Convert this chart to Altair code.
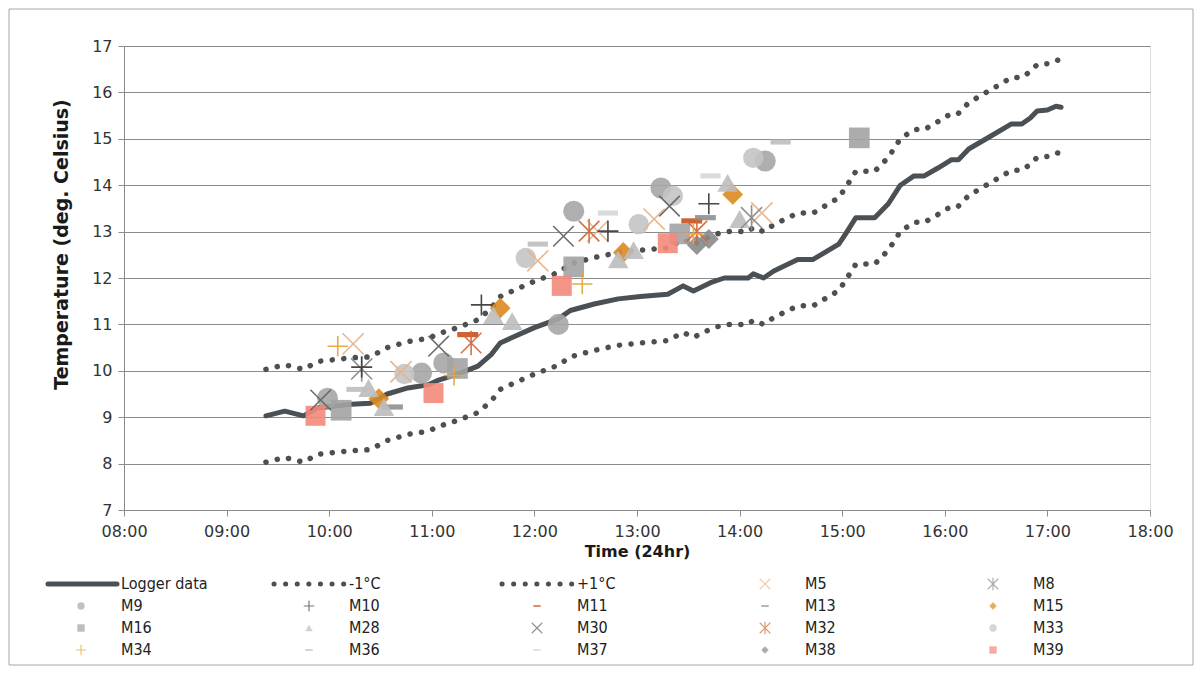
import altair as alt
import pandas as pd

# ---------------- data ----------------
logger_time = ["09:23","09:34","09:45","09:53","10:13","10:24","10:34","10:46","10:58","11:04",
               "11:15","11:27","11:35","11:40","11:46","12:00","12:14","12:21","12:35","12:49",
               "13:02","13:18","13:27","13:33","13:43","13:51","14:05","14:08","14:14","14:20",
               "14:34","14:43","14:58","15:02","15:08","15:19","15:27","15:34","15:42","15:48",
               "15:56","16:04","16:08","16:14","16:27","16:39","16:45","16:50","16:54","17:00",
               "17:05","17:08"]
logger_temp = [9.03,9.13,9.03,9.2,9.28,9.3,9.5,9.63,9.7,9.8,
               9.93,10.1,10.36,10.6,10.7,10.93,11.12,11.3,11.44,11.55,
               11.6,11.65,11.83,11.72,11.9,12.0,12.0,12.09,12.0,12.15,
               12.4,12.4,12.73,12.95,13.3,13.3,13.6,14.0,14.2,14.2,
               14.37,14.55,14.55,14.78,15.06,15.32,15.32,15.45,15.6,15.62,
               15.7,15.68]
lower_temp = [8.03,8.13,8.03,8.2,8.28,8.3,8.5,8.63,8.7,8.8,
              8.93,9.1,9.36,9.6,9.7,9.93,10.12,10.3,10.44,10.55,
              10.6,10.65,10.83,10.72,10.9,11.0,11.0,11.09,11.0,11.15,
              11.4,11.4,11.73,11.95,12.3,12.3,12.6,13.0,13.2,13.2,
              13.37,13.55,13.55,13.78,14.06,14.32,14.32,14.45,14.6,14.62,
              14.7,14.68]
upper_temp = [10.03,10.13,10.03,10.2,10.28,10.3,10.5,10.63,10.7,10.8,
              10.93,11.1,11.36,11.6,11.7,11.93,12.12,12.3,12.44,12.55,
              12.6,12.65,12.83,12.72,12.9,13.0,13.0,13.09,13.0,13.15,
              13.4,13.4,13.73,13.95,14.3,14.3,14.6,15.0,15.2,15.2,
              15.37,15.55,15.55,15.78,16.06,16.32,16.32,16.45,16.6,16.62,
              16.7,16.68]

M5 = [("10:14",10.58),("10:42",9.98),("12:02",12.37),("12:37",13.01),("13:10",13.27),("14:13",13.4)]
M8 = [("10:19",10.04),("14:07",13.3)]
M9 = [("09:59",9.41),("10:54",9.95),("11:07",10.17),("12:14",11.0),("12:23",13.44),("13:14",13.94),("14:15",14.52)]
M10 = [("10:19",10.08),("11:29",11.42),("12:43",13.01),("13:42",13.6)]
M11 = [("11:21",10.78),("13:32",13.23)]
M13 = [("10:37",9.22),("13:40",13.3)]
M15 = [("10:29",9.4),("11:40",11.35),("12:52",12.55),("13:56",13.8)]
M16 = [("10:07",9.15),("11:15",10.05),("12:23",12.24),("13:25",12.95),("15:10",15.02)]
M28 = [("10:23",9.63),("10:32",9.22),("11:36",11.2),("11:47",11.07),("12:49",12.4),("12:58",12.6),("13:53",14.05),("14:00",13.27)]
M30 = [("09:55",9.37),("11:04",10.53),("12:17",12.9),("13:19",13.55)]
M32 = [("11:23",10.6),("12:32",13.01),("13:35",13.01)]
M33 = [("10:44",9.93),("11:55",12.43),("13:01",13.16),("13:21",13.77),("14:08",14.59)]
M34 = [("10:05",10.53),("11:13",9.9),("12:28",11.87),("13:33",12.95)]
M36 = [("10:16",9.6),("12:02",12.73),("14:24",14.93)]
M37 = [("12:43",13.4),("13:43",14.2)]
M38 = [("13:35",12.71),("13:42",12.84)]
M39 = [("09:52",9.03),("11:01",9.52),("12:16",11.83),("13:18",12.75)]

marker_series = {"M5": M5, "M8": M8, "M9": M9, "M10": M10, "M11": M11, "M13": M13, "M15": M15,
                 "M16": M16, "M28": M28, "M30": M30, "M32": M32, "M33": M33, "M34": M34,
                 "M36": M36, "M37": M37, "M38": M38, "M39": M39}
m_names = list(marker_series.keys())
series_order = ["Logger data", "-1°C", "+1°C"] + m_names

# ---------------- styles ----------------
LINE_C = "#4B5054"
color_map = {"Logger data": LINE_C, "-1°C": LINE_C, "+1°C": LINE_C,
             "M5": "#E9B48A", "M8": "#8C8C8C", "M9": "#A6A6A6", "M10": "#3F3F3F",
             "M11": "#C8501E", "M13": "#8F8F8F", "M15": "#DB8A1F", "M16": "#A3A3A3",
             "M28": "#BDBDBD", "M30": "#666666", "M32": "#D46A3C", "M33": "#C4C4C4",
             "M34": "#E6A83A", "M36": "#BEBEBE", "M37": "#D6D6D6", "M38": "#8A8A8A",
             "M39": "#F4897B"}
XS = "M-1,-1L1,1M-1,1L1,-1"
PLUS = "M-1,0L1,0M0,-1L0,1"
AST = "M-1,-1L1,1M-1,1L1,-1M0,-1.2L0,1.2"
DASH = "M-1,-0.25L1,-0.25L1,0.25L-1,0.25Z"
shape_map = {"M5": XS, "M8": AST, "M9": "circle", "M10": PLUS, "M11": DASH, "M13": DASH,
             "M15": "diamond", "M16": "square", "M28": "triangle-up", "M30": XS, "M32": AST,
             "M33": "circle", "M34": PLUS, "M36": DASH, "M37": DASH, "M38": "diamond",
             "M39": "square"}
size_map = {"M5": 450, "M8": 400, "M9": 280, "M10": 450, "M11": 90, "M13": 150, "M15": 200,
            "M16": 300, "M28": 260, "M30": 450, "M32": 400, "M33": 280, "M34": 450,
            "M36": 70, "M37": 150, "M38": 70, "M39": 330}
stroked = ["M5", "M8", "M10", "M30", "M32", "M34"]
filled = [m for m in m_names if m not in stroked]


def tstr(hm):
    return "2000-01-01T" + hm + ":00"


logger_df = pd.DataFrame({"t": [tstr(h) for h in logger_time], "temp": logger_temp, "series": "Logger data"})
lower_df = pd.DataFrame({"t": [tstr(h) for h in logger_time], "temp": lower_temp, "series": "-1°C"})
upper_df = pd.DataFrame({"t": [tstr(h) for h in logger_time], "temp": upper_temp, "series": "+1°C"})
rows = []
for name, pts in marker_series.items():
    for hm, v in pts:
        rows.append({"series": name, "t": tstr(hm), "temp": v})
pts_df = pd.DataFrame(rows)
legend_df = pd.DataFrame({"series": series_order})

# ---------------- encodings ----------------
W, H = 1026, 464
FONT = "DejaVu Sans"
hours = [alt.DateTime(year=2000, month=1, date=1, hours=h) for h in range(8, 19)]
X = alt.X("t:T", scale=alt.Scale(domain=[hours[0], hours[-1]]),
          axis=alt.Axis(values=hours, format="%H:%M", title="Time (24hr)", grid=False,
                        labelFont=FONT, titleFont=FONT, labelFlush=False, labelOverlap=False,
                        labelFontSize=16, labelPadding=7, tickSize=6, titleFontSize=16,
                        titleFontWeight="bold", titlePadding=4, labelColor="#333333",
                        titleColor="#1a1a1a", domainColor="#8C8C8C", tickColor="#8C8C8C"))
Y = alt.Y("temp:Q", scale=alt.Scale(domain=[7, 17], nice=False, zero=False),
          axis=alt.Axis(values=list(range(7, 18)), title="Temperature (deg. Celsius)", grid=True,
                        labelFont=FONT, titleFont=FONT, titleLimit=600, titleY=198,
                        gridColor="#8C8C8C", labelFontSize=16, labelPadding=6, tickSize=6,
                        titleFontSize=19, titleFontWeight="bold", titlePadding=20,
                        labelColor="#333333", titleColor="#1a1a1a",
                        domainColor="#8C8C8C", tickColor="#8C8C8C"))
color = alt.Color("series:N", scale=alt.Scale(domain=series_order,
                                              range=[color_map[s] for s in series_order]), legend=None)
shape = alt.Shape("series:N", scale=alt.Scale(domain=m_names, range=[shape_map[s] for s in m_names]), legend=None)
size = alt.Size("series:N", scale=alt.Scale(domain=m_names, range=[size_map[s] for s in m_names]), legend=None)

logger = alt.Chart(logger_df).mark_line(strokeWidth=5, strokeJoin="round", strokeCap="round").encode(
    x=X, y=Y, color=color)
lower = alt.Chart(lower_df).mark_line(strokeWidth=5.5, strokeDash=[0.1, 11.5], strokeCap="round").encode(
    x=X, y=Y, color=color)
upper = alt.Chart(upper_df).mark_line(strokeWidth=5.5, strokeDash=[0.1, 11.5], strokeCap="round").encode(
    x=X, y=Y, color=color)
pts_filled = alt.Chart(pts_df).transform_filter(
    alt.FieldOneOfPredicate(field="series", oneOf=filled)).mark_point(filled=True, opacity=0.9).encode(
    x=X, y=Y, color=color, shape=shape, size=size)
pts_stroked = alt.Chart(pts_df).transform_filter(
    alt.FieldOneOfPredicate(field="series", oneOf=stroked)).mark_point(filled=False, strokeWidth=1.6, opacity=0.95).encode(
    x=X, y=Y, color=color, shape=shape, size=size)
main = alt.layer(logger, lower, upper, pts_filled, pts_stroked)

# ---------------- legend ----------------
LX = alt.X("col:Q", scale=alt.Scale(domain=[0, 4], range=[-43, 869]), axis=None)
LY = alt.Y("row:Q", scale=alt.Scale(domain=[0, 3], range=[538, 604]), axis=None)
leg_base = alt.Chart(legend_df).transform_window(idx="row_number()").transform_calculate(
    col="(datum.idx - 1) % 5", row="floor((datum.idx - 1) / 5)")
leg_text = leg_base.mark_text(align="left", baseline="middle", dx=40, fontSize=16,
                              font="DejaVu Sans Condensed, Liberation Sans Narrow, DejaVu Sans",
                              color="#222222").encode(x=LX, y=LY, text="series:N")
leg_logger = leg_base.transform_filter(alt.datum.series == "Logger data").mark_rule(
    strokeWidth=5, strokeCap="round", xOffset=-33, x2Offset=36).encode(x=LX, x2="col:Q", y=LY, color=color)
leg_dots = leg_base.transform_filter(
    alt.FieldOneOfPredicate(field="series", oneOf=["-1°C", "+1°C"])).mark_rule(
    strokeWidth=5, strokeCap="round", strokeDash=[0.1, 11.5], xOffset=-35, x2Offset=36).encode(
    x=LX, x2="col:Q", y=LY, color=color)
leg_filled = leg_base.transform_filter(
    alt.FieldOneOfPredicate(field="series", oneOf=filled)).mark_point(filled=True, size=55).encode(
    x=LX, y=LY, color=color, shape=shape)
leg_stroked = leg_base.transform_filter(
    alt.FieldOneOfPredicate(field="series", oneOf=stroked)).mark_point(filled=False, size=110, strokeWidth=1.2).encode(
    x=LX, y=LY, color=color, shape=shape)
legend = alt.layer(leg_dots, leg_logger, leg_filled, leg_stroked, leg_text)

border = alt.Chart(alt.Data(values=[{"a": 1}])).mark_rect(
    fill="transparent", stroke="#A6A6A6", strokeWidth=1).encode(
    x=alt.value(-115), x2=alt.value(1069), y=alt.value(-37), y2=alt.value(619))

chart = alt.layer(main, legend, border).resolve_scale(x="independent", y="independent").properties(
    width=W, height=H, padding=0, background="white"
).configure_view(stroke=None).configure(font=FONT)

chart.save("out.html", embed_options={"renderer": "svg", "actions": False})
